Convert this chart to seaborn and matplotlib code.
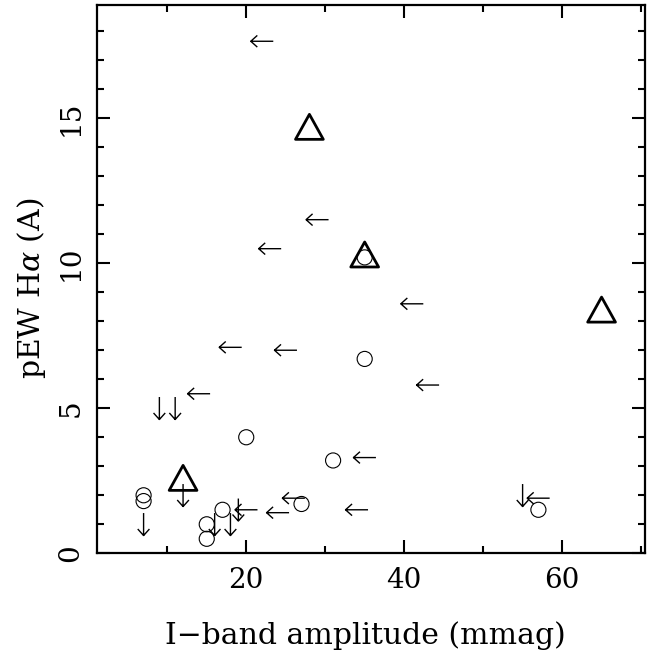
import numpy as np
import pandas as pd
import matplotlib
matplotlib.use("Agg")
import matplotlib.pyplot as plt
from matplotlib.path import Path
import seaborn as sns

# ---- data ----
circle_amp = [7, 7, 15, 15, 17, 20, 27, 31, 35, 35, 57]
circle_pew = [2.0, 1.8, 1.0, 0.5, 1.5, 4.0, 1.7, 3.2, 6.7, 10.2, 1.5]

triangle_amp = [12, 28, 35, 65]
triangle_pew = [2.6, 14.7, 10.3, 8.4]

# upper limits in amplitude (left arrows)
amp_limit_amp = [22, 29, 23, 41, 18, 25, 43, 14, 35, 26, 20, 24, 34, 57]
amp_limit_pew = [17.65, 11.5, 10.5, 8.6, 7.1, 7.0, 5.8, 5.5, 3.3, 1.9, 1.5, 1.4, 1.5, 1.9]

# upper limits in pEW (down arrows)
pew_limit_amp = [9, 11, 12, 7, 16, 18, 19, 55]
pew_limit_pew = [5.0, 5.0, 2.0, 1.0, 1.0, 1.0, 1.5, 2.0]

x_major = [20, 40, 60]
x_minor = [10, 30, 50, 70]
y_major = [0, 5, 10, 15]
y_minor = [1, 2, 3, 4, 6, 7, 8, 9, 11, 12, 13, 14, 16, 17, 18]

x_label = "I\u2212band amplitude (mmag)"
y_label = r"pEW H$\alpha$ (A)"

# ---- style ----
sns.set_theme(style="ticks")
plt.rcParams["font.family"] = ["DejaVu Serif", "DejaVu Sans"]
plt.rcParams["mathtext.fontset"] = "dejavuserif"

# marker paths
M, L, C = Path.MOVETO, Path.LINETO, Path.CLOSEPOLY
left_arrow = Path([(1, 0), (-1, 0), (-0.42, 0.52), (-1, 0), (-0.42, -0.52)],
                  [M, L, M, L, L])
down_arrow = Path([(0, 1), (0, -1), (0.52, -0.42), (0, -1), (-0.52, -0.42)],
                  [M, L, M, L, L])
triangle = Path([(0, 0.9), (-1, -0.9), (1, -0.9), (0, 0.9)], [M, L, L, C])

fig = plt.figure(figsize=(6.48, 6.61), dpi=100)
ax = fig.add_axes([97 / 648, 107.7 / 661, 548 / 648, 548.3 / 661])

circles = pd.DataFrame({"amp": circle_amp, "pew": circle_pew})
tris = pd.DataFrame({"amp": triangle_amp, "pew": triangle_pew})
lefts = pd.DataFrame({"amp": amp_limit_amp, "pew": amp_limit_pew})
downs = pd.DataFrame({"amp": pew_limit_amp, "pew": pew_limit_pew})

sns.scatterplot(data=circles, x="amp", y="pew", ax=ax, marker="o", s=118,
                facecolor="none", edgecolor="black", linewidth=0.8, zorder=3)
sns.scatterplot(data=tris, x="amp", y="pew", ax=ax, marker=triangle, s=400,
                facecolor="none", edgecolor="black", linewidth=2.0, zorder=3)
sns.scatterplot(data=lefts, x="amp", y="pew", ax=ax, marker=left_arrow, s=262,
                facecolor="none", edgecolor="black", linewidth=1.0, zorder=3)
sns.scatterplot(data=downs, x="amp", y="pew", ax=ax, marker=down_arrow, s=262,
                facecolor="none", edgecolor="black", linewidth=1.0, zorder=3)

ax.set_xlim(1.1, 70.5)
ax.set_ylim(0, 18.9)

ax.set_xticks(x_major)
ax.set_xticks(x_minor, minor=True)
ax.set_yticks(y_major)
ax.set_yticks(y_minor, minor=True)
ax.set_xticklabels([str(v) for v in x_major])
ax.set_yticklabels([str(v) for v in y_major])

ax.tick_params(which="both", direction="in", top=True, right=True,
               width=1.5, color="black", labelcolor="black")
ax.tick_params(which="major", length=9.5, labelsize=20)
ax.tick_params(which="minor", length=5)
ax.tick_params(axis="x", which="major", pad=10)
ax.tick_params(axis="y", which="major", pad=9, labelrotation=90)
for lbl in ax.get_yticklabels():
    lbl.set_verticalalignment("center")

for sp in ax.spines.values():
    sp.set_visible(True)
    sp.set_linewidth(1.6)
    sp.set_color("black")

ax.set_xlabel(x_label, fontsize=21.5, color="black")
ax.set_ylabel(y_label, fontsize=21.5, color="black")
ax.xaxis.set_label_coords(0.49, -0.151)
ax.xaxis.label.set_verticalalignment("center")
ax.yaxis.set_label_coords(-0.12, 0.484)
ax.yaxis.label.set_verticalalignment("center")

fig.savefig("out.png", dpi=100)
